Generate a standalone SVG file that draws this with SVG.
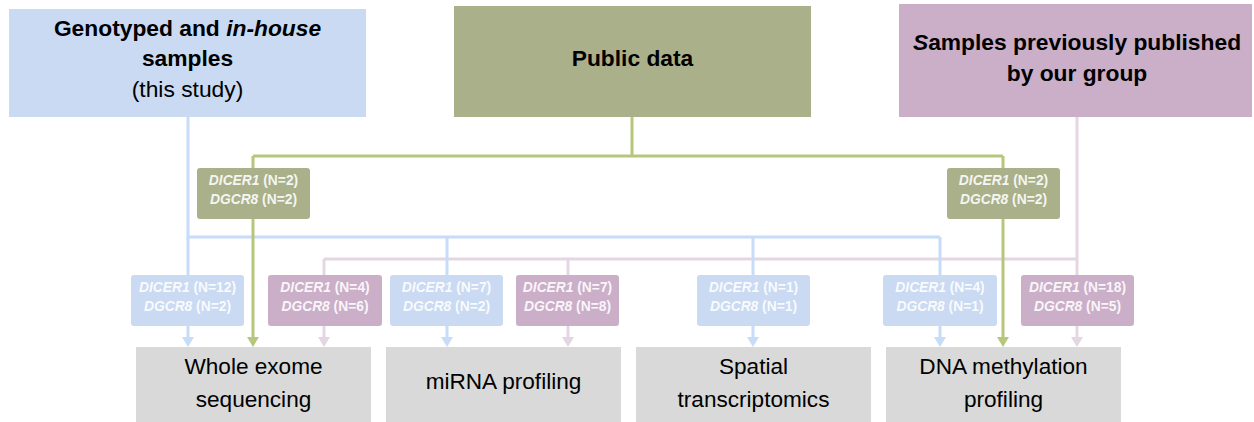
<svg xmlns="http://www.w3.org/2000/svg" width="1254" height="422" viewBox="0 0 1254 422">
  <style>
    text { font-family: "Liberation Sans", Arial, sans-serif; }
    .title { font-size: 22.8px; font-weight: bold; fill: #000; text-anchor: middle; }
    .sub { font-size: 22.8px; font-weight: normal; fill: #000; text-anchor: middle; }
    .lab { font-size: 13.8px; font-weight: bold; fill: #ffffff; fill-opacity: 0.9; text-anchor: middle; }
    .it { font-style: italic; }
    .out { font-size: 22.6px; fill: #000; text-anchor: middle; }
    .bl { fill: none; stroke: #c6dcf8; stroke-width: 3; }
    .gr { fill: none; stroke: #b6c77c; stroke-width: 3; }
    .pu { fill: none; stroke: #e5d6e3; stroke-width: 3; }
    .fbl { fill: #c9daf2; }
    .fgr { fill: #aab18a; }
    .fpu { fill: #cbafc9; }
    .fout { fill: #d9d9d9; }
  </style>
  <defs>
    <marker id="ab" viewBox="0 0 10 12" refX="0" refY="6" markerWidth="10" markerHeight="12" markerUnits="userSpaceOnUse" orient="auto" preserveAspectRatio="none"><path d="M0,0 L10,6 L0,12 z" fill="#c6dcf8"/></marker>
    <marker id="ag" viewBox="0 0 10 12" refX="0" refY="6" markerWidth="10" markerHeight="12" markerUnits="userSpaceOnUse" orient="auto" preserveAspectRatio="none"><path d="M0,0 L10,6 L0,12 z" fill="#b6c77c"/></marker>
    <marker id="ap" viewBox="0 0 10 12" refX="0" refY="6" markerWidth="10" markerHeight="12" markerUnits="userSpaceOnUse" orient="auto" preserveAspectRatio="none"><path d="M0,0 L10,6 L0,12 z" fill="#e5d6e3"/></marker>
  </defs>

  <g id="connectors">
    <!-- purple (previously published) -->
    <path class="pu" d="M1077,117 V259 M324,259 H1077"/>
    <path class="pu" d="M324,259 V337" marker-end="url(#ap)"/>
    <path class="pu" d="M568,259 V337" marker-end="url(#ap)"/>
    <path class="pu" d="M1077,259 V337" marker-end="url(#ap)"/>
    <!-- blue (this study) -->
    <path class="bl" d="M188,117 V237 H940"/>
    <path class="bl" d="M188,237 V337" marker-end="url(#ab)"/>
    <path class="bl" d="M447,237 V337" marker-end="url(#ab)"/>
    <path class="bl" d="M753,237 V337" marker-end="url(#ab)"/>
    <path class="bl" d="M940,237 V337" marker-end="url(#ab)"/>
    <!-- green (public) -->
    <path class="gr" d="M632,117 V156 M253,156 H1003"/>
    <path class="gr" d="M253,156 V337" marker-end="url(#ag)"/>
    <path class="gr" d="M1003,156 V337" marker-end="url(#ag)"/>
  </g>

  <g id="src-inhouse">
    <rect class="fbl" x="9" y="9" width="357" height="108"/>
    <text class="title" x="187.5" y="36">Genotyped and <tspan class="it">in-house</tspan></text>
    <text class="title" x="187.5" y="66">samples</text>
    <text class="sub" x="187.5" y="97">(this study)</text>
  </g>
  <g id="src-public">
    <rect class="fgr" x="454" y="6" width="357" height="111"/>
    <text class="title" x="632.5" y="66">Public data</text>
  </g>
  <g id="src-published">
    <rect class="fpu" x="899" y="4" width="353" height="113"/>
    <text class="title" x="1077" y="50"><tspan class="it">S</tspan>amples previously published</text>
    <text class="title" x="1077" y="81">by our group</text>
  </g>

  <g id="lab-public-wes">
    <rect class="fgr" x="197" y="168" width="113" height="51" rx="3"/>
    <text class="lab" x="253.5" y="185"><tspan class="it">DICER1</tspan> (N=2)</text>
    <text class="lab" x="253.5" y="204"><tspan class="it">DGCR8</tspan> (N=2)</text>
  </g>
  <g id="lab-public-dna">
    <rect class="fgr" x="947" y="168" width="113" height="51" rx="3"/>
    <text class="lab" x="1003.5" y="185"><tspan class="it">DICER1</tspan> (N=2)</text>
    <text class="lab" x="1003.5" y="204"><tspan class="it">DGCR8</tspan> (N=2)</text>
  </g>

  <g id="lab-inhouse-wes">
    <rect class="fbl" x="131" y="275" width="113" height="51" rx="3"/>
    <text class="lab" x="187.5" y="292"><tspan class="it">DICER1</tspan> (N=12)</text>
    <text class="lab" x="187.5" y="311"><tspan class="it">DGCR8</tspan> (N=2)</text>
  </g>
  <g id="lab-published-wes">
    <rect class="fpu" x="268" y="275" width="114" height="51" rx="3"/>
    <text class="lab" x="325" y="292"><tspan class="it">DICER1</tspan> (N=4)</text>
    <text class="lab" x="325" y="311"><tspan class="it">DGCR8</tspan> (N=6)</text>
  </g>
  <g id="lab-inhouse-mirna">
    <rect class="fbl" x="390" y="275" width="113" height="51" rx="3"/>
    <text class="lab" x="446.5" y="292"><tspan class="it">DICER1</tspan> (N=7)</text>
    <text class="lab" x="446.5" y="311"><tspan class="it">DGCR8</tspan> (N=2)</text>
  </g>
  <g id="lab-published-mirna">
    <rect class="fpu" x="516" y="275" width="103" height="51" rx="3"/>
    <text class="lab" x="567.5" y="292"><tspan class="it">DICER1</tspan> (N=7)</text>
    <text class="lab" x="567.5" y="311"><tspan class="it">DGCR8</tspan> (N=8)</text>
  </g>
  <g id="lab-inhouse-spatial">
    <rect class="fbl" x="697" y="275" width="113" height="51" rx="3"/>
    <text class="lab" x="753.5" y="292"><tspan class="it">DICER1</tspan> (N=1)</text>
    <text class="lab" x="753.5" y="311"><tspan class="it">DGCR8</tspan> (N=1)</text>
  </g>
  <g id="lab-inhouse-dna">
    <rect class="fbl" x="883" y="275" width="114" height="51" rx="3"/>
    <text class="lab" x="940" y="292"><tspan class="it">DICER1</tspan> (N=4)</text>
    <text class="lab" x="940" y="311"><tspan class="it">DGCR8</tspan> (N=1)</text>
  </g>
  <g id="lab-published-dna">
    <rect class="fpu" x="1021" y="275" width="113" height="51" rx="3"/>
    <text class="lab" x="1077.5" y="292"><tspan class="it">DICER1</tspan> (N=18)</text>
    <text class="lab" x="1077.5" y="311"><tspan class="it">DGCR8</tspan> (N=5)</text>
  </g>

  <g id="out-wes">
    <rect class="fout" x="136" y="347" width="235" height="75"/>
    <text class="out" x="253.5" y="374">Whole exome</text>
    <text class="out" x="253.5" y="407">sequencing</text>
  </g>
  <g id="out-mirna">
    <rect class="fout" x="386" y="347" width="235" height="75"/>
    <text class="out" x="503.5" y="389">miRNA profiling</text>
  </g>
  <g id="out-spatial">
    <rect class="fout" x="636" y="347" width="235" height="75"/>
    <text class="out" x="753.5" y="374">Spatial</text>
    <text class="out" x="753.5" y="407">transcriptomics</text>
  </g>
  <g id="out-dna">
    <rect class="fout" x="886" y="347" width="235" height="75"/>
    <text class="out" x="1003.5" y="374">DNA methylation</text>
    <text class="out" x="1003.5" y="407">profiling</text>
  </g>
</svg>
